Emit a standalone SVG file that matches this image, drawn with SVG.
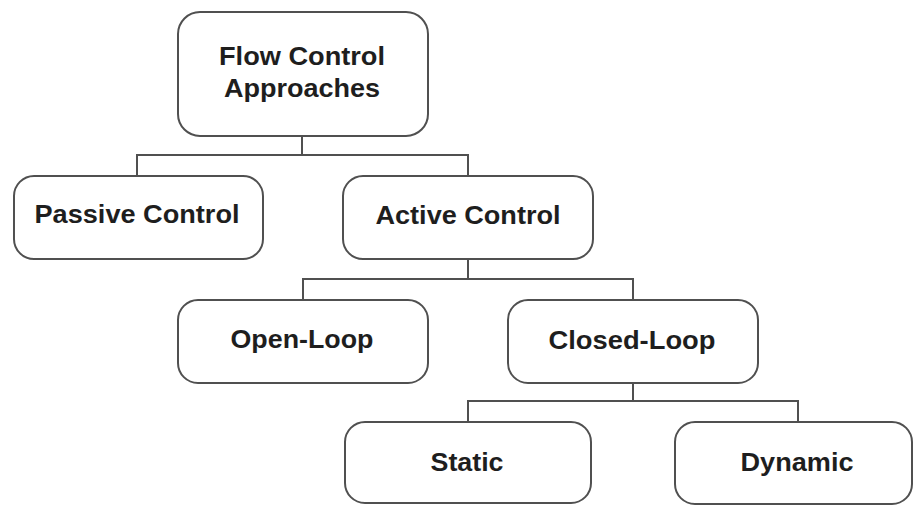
<svg xmlns="http://www.w3.org/2000/svg" width="915" height="505" viewBox="0 0 915 505">
<style>
.box{fill:#fff;stroke:#505050;stroke-width:2}
.lbl{font-family:"Liberation Sans",Arial,sans-serif;font-weight:bold;font-size:25px;fill:#1e1e1e;text-anchor:middle}
.con{fill:none;stroke:#505050;stroke-width:2}
</style>
<rect width="915" height="505" fill="#fff"/>
<g id="connectors">
<path class="con" d="M302 136V155M137 176V155H468V176"/>
<path class="con" d="M468 259V279M303 300V279H633V300"/>
<path class="con" d="M633 383V401M468 422V401H798V422"/>
</g>
<g id="root">
<rect class="box" x="178" y="12" width="250" height="124" rx="22"/>
<text class="lbl" x="302" y="65" textLength="166" lengthAdjust="spacingAndGlyphs">Flow Control</text>
<text class="lbl" x="302" y="97" textLength="156" lengthAdjust="spacingAndGlyphs">Approaches</text>
</g>
<g id="passive">
<rect class="box" x="14" y="176" width="249" height="83" rx="20"/>
<text class="lbl" x="137" y="223" textLength="205" lengthAdjust="spacingAndGlyphs">Passive Control</text>
</g>
<g id="active">
<rect class="box" x="343" y="176" width="250" height="83" rx="20"/>
<text class="lbl" x="468" y="224" textLength="185" lengthAdjust="spacingAndGlyphs">Active Control</text>
</g>
<g id="openloop">
<rect class="box" x="178" y="300" width="250" height="83" rx="20"/>
<text class="lbl" x="302" y="348" textLength="143" lengthAdjust="spacingAndGlyphs">Open-Loop</text>
</g>
<g id="closedloop">
<rect class="box" x="508" y="300" width="250" height="83" rx="20"/>
<text class="lbl" x="632" y="349" textLength="167" lengthAdjust="spacingAndGlyphs">Closed-Loop</text>
</g>
<g id="static">
<rect class="box" x="345" y="422" width="246" height="81" rx="20"/>
<text class="lbl" x="467" y="471" textLength="73" lengthAdjust="spacingAndGlyphs">Static</text>
</g>
<g id="dynamic">
<rect class="box" x="675" y="422" width="237" height="82" rx="20"/>
<text class="lbl" x="797" y="471" textLength="113" lengthAdjust="spacingAndGlyphs">Dynamic</text>
</g>
</svg>
